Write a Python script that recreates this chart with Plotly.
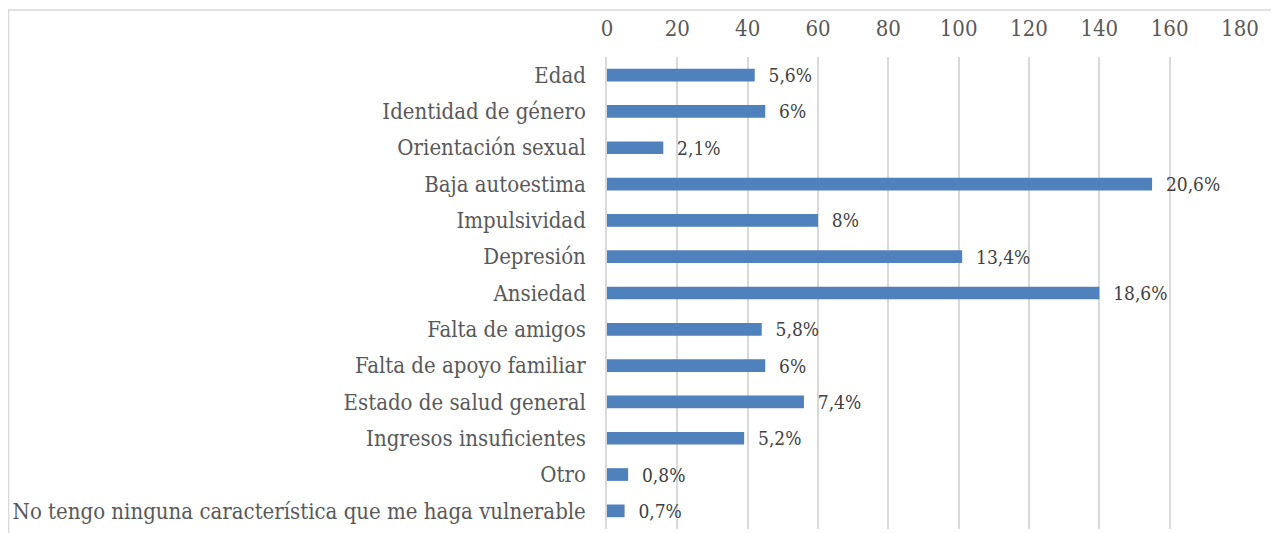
import plotly.graph_objects as go

categories = ["Edad", "Identidad de género", "Orientación sexual", "Baja autoestima",
              "Impulsividad", "Depresión", "Ansiedad", "Falta de amigos",
              "Falta de apoyo familiar", "Estado de salud general",
              "Ingresos insuficientes", "Otro",
              "No tengo ninguna característica que me haga vulnerable"]
values = [42, 45, 16, 155, 60, 101, 140, 44, 45, 56, 39, 6, 5]
labels = ["5,6%", "6%", "2,1%", "20,6%", "8%", "13,4%", "18,6%", "5,8%",
          "6%", "7,4%", "5,2%", "0,8%", "0,7%"]
tick_vals = [0, 20, 40, 60, 80, 100, 120, 140, 160, 180]

FONT = "DejaVu Serif Condensed, DejaVu Serif, serif"

# page body has an 8px margin; positions below are in figure coordinates
W, H = 1279, 533
L, R, T, B = 599, 47, 49, 12
pw, ph = W - L - R, H - T - B

fig = go.Figure(go.Bar(
    x=values, y=categories, orientation="h",
    marker=dict(color="#4F81BD", line=dict(width=0)),
    text=["\u00a0\u00a0" + t for t in labels], textposition="outside",
    textfont=dict(family=FONT, size=19, color="#404040"),
    constraintext="none", cliponaxis=False,
))

fig.update_layout(
    width=W, height=H,
    margin=dict(l=L, r=R, t=T, b=B),
    paper_bgcolor="white", plot_bgcolor="white",
    bargap=0.65, showlegend=False,
    font=dict(family=FONT, color="#595959"),
    xaxis=dict(side="top", range=[0, 180], tickvals=tick_vals,
               showgrid=True, gridcolor="#D9D9D9", gridwidth=1.5,
               zeroline=False, showline=False, ticks="", automargin=False,
               tickfont=dict(family=FONT, size=22, color="#595959"),
               ticklabelstandoff=16),
    yaxis=dict(autorange="reversed", showgrid=False, zeroline=False,
               showline=True, linecolor="#D9D9D9", linewidth=1.5,
               ticks="", automargin=False,
               tickfont=dict(family=FONT, size=22, color="#595959"),
               ticklabelstandoff=15),
    shapes=[dict(type="rect", xref="paper", yref="paper",
                 x0=(0.5 - L) / pw, x1=(1269 - L) / pw,
                 y0=(H - B - 540) / ph, y1=(H - B - 2) / ph,
                 line=dict(color="#D9D9D9", width=1.5), layer="below")],
)

fig.write_html("out.html")
